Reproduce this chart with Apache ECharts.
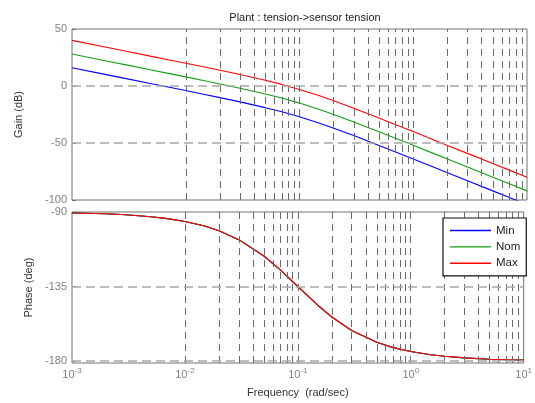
<!DOCTYPE html>
<html><head><meta charset="utf-8">
<script src="https://cdn.jsdelivr.net/npm/echarts@6/dist/echarts.min.js"></script>
<style>html,body{margin:0;padding:0;background:#fff}#c{width:535px;height:403px}</style>
</head><body><div id="c"></div>
<script>
// ---- data ----
const freq = [0.001, 0.002, 0.003, 0.005, 0.007, 0.01, 0.015, 0.02, 0.03, 0.05, 0.07, 0.1, 0.15, 0.2, 0.3, 0.5, 0.7, 1, 1.5, 2, 3, 5, 7, 10];
const gainMin = [16.0, 10.0, 6.5, 2.0, -0.9, -4.0, -7.6, -10.2, -13.9, -19.0, -22.6, -27.0, -32.6, -37.0, -43.5, -52.1, -57.9, -64.0, -71.1, -76.1, -83.1, -92.0, -97.8, -104.0];
const gainNom = [28.0, 22.0, 18.5, 14.0, 11.1, 8.0, 4.4, 1.8, -1.9, -7.0, -10.6, -15.0, -20.6, -25.0, -31.5, -40.1, -45.9, -52.0, -59.1, -64.1, -71.1, -80.0, -85.8, -92.0];
const gainMax = [40.0, 34.0, 30.5, 26.0, 23.1, 20.0, 16.4, 13.8, 10.1, 5.0, 1.4, -3.0, -8.6, -13.0, -19.5, -28.1, -33.9, -40.0, -47.1, -52.1, -59.1, -68.0, -73.8, -80.0];
const phaseMin = [-90.6, -91.1, -91.7, -92.9, -94.0, -95.7, -98.5, -101.3, -106.7, -116.6, -125.0, -135.0, -146.3, -153.4, -161.6, -168.7, -171.9, -174.3, -176.2, -177.1, -178.1, -178.9, -179.2, -179.4];
const phaseNom = [-90.6, -91.1, -91.7, -92.9, -94.0, -95.7, -98.5, -101.3, -106.7, -116.6, -125.0, -135.0, -146.3, -153.4, -161.6, -168.7, -171.9, -174.3, -176.2, -177.1, -178.1, -178.9, -179.2, -179.4];
const phaseMax = [-90.6, -91.1, -91.7, -92.9, -94.0, -95.7, -98.5, -101.3, -106.7, -116.6, -125.0, -135.0, -146.3, -153.4, -161.6, -168.7, -171.9, -174.3, -176.2, -177.1, -178.1, -178.9, -179.2, -179.4];
const seriesNames = ['Min', 'Nom', 'Max'];
const gainTicks = [-100, -50, 0, 50];
const phaseTicks = [-180, -135, -90];
const decades = [0.001, 0.01, 0.1, 1, 10];
const titleText = 'Plant : tension->sensor tension';

// ---- build ----
const colors = ['#0000ff', '#10a010', '#ff0000'];
const pair = (ys) => freq.map((f, i) => [f, ys[i]]);
const vLines = [];
decades.slice(0, -1).forEach(d => { for (let k = 1; k <= 9; k++) { const v = d * k; if (v > 0.0011) vLines.push(v); } });
const FONT = 'Liberation Sans, Arial, sans-serif';
const vStyle = {color: '#6a6a6a', width: 1, type: [7, 5]};
const hStyle = {color: '#a8a8a8', width: 1.5, type: [9, 5]};
function gridSeries(ax, hVals) {
  return {
    type: 'line', data: [], xAxisIndex: ax, yAxisIndex: ax, z: 1, silent: true,
    markLine: {
      symbol: 'none', silent: true, animation: false, label: {show: false},
      emphasis: {disabled: true},
      data: vLines.map(v => ({xAxis: v, lineStyle: vStyle})).concat(hVals.map(v => ({yAxis: v, lineStyle: hStyle})))
    }
  };
}
const xCommon = {
  type: 'log', logBase: 10, min: 0.001, max: 10,
  axisLine: {show: false}, axisTick: {show: false}, splitLine: {show: false}
};
const option = {
  animation: false,
  title: {text: titleText, left: 300, top: 7, textAlign: 'center',
    textStyle: {fontFamily: FONT, fontSize: 11, fontWeight: 'normal', color: '#222'}},
  legend: {
    data: seriesNames, orient: 'vertical', left: 443, top: 218, zlevel: 2, z: 20,
    itemWidth: 41, itemHeight: 14, itemGap: 2.4, padding: [5.5, 6, 5.5, 7],
    backgroundColor: '#fff', borderColor: '#111', borderWidth: 1.2, borderRadius: 0,
    icon: 'path://M0,0 L40,0 L40,1.4 L0,1.4 Z',
    textStyle: {fontFamily: FONT, fontSize: 11.5, color: '#222', lineHeight: 14}
  },
  grid: [
    {left: 72, top: 29, width: 455, height: 171, show: true, borderColor: '#707070', borderWidth: 1, backgroundColor: 'transparent'},
    {left: 72, top: 212, width: 455, height: 151, show: true, borderColor: '#707070', borderWidth: 1, backgroundColor: 'transparent'}
  ],
  xAxis: [
    Object.assign({gridIndex: 0, axisLabel: {show: false}}, xCommon),
    Object.assign({gridIndex: 1,
      name: 'Frequency  (rad/sec)', nameLocation: 'middle', nameGap: 24,
      nameTextStyle: {fontFamily: FONT, fontSize: 11, color: '#333'},
      axisLabel: {
        margin: 4,
        formatter: v => '{b|10}{s|' + Math.round(Math.log10(v)) + '}',
        rich: {
          b: {fontFamily: FONT, fontSize: 11, color: '#808080'},
          s: {fontFamily: FONT, fontSize: 8, color: '#808080', padding: [0, 0, 8, 0]}
        }
      }}, xCommon)
  ],
  yAxis: [
    {gridIndex: 0, min: -100, max: 50, interval: 50,
      name: 'Gain (dB)', nameLocation: 'middle', nameGap: 48,
      nameTextStyle: {fontFamily: FONT, fontSize: 11, color: '#333'},
      axisLine: {show: false}, splitLine: {show: false},
      axisTick: {show: true, inside: true, length: 4, lineStyle: {color: '#707070'}},
      axisLabel: {margin: 5, fontFamily: FONT, fontSize: 11, color: '#808080'}},
    {gridIndex: 1, min: -181.2, max: -90,
      name: 'Phase (deg)', nameLocation: 'middle', nameGap: 34,
      nameTextStyle: {fontFamily: FONT, fontSize: 11, color: '#333'},
      axisLine: {show: false}, splitLine: {show: false},
      axisTick: {show: true, inside: true, length: 4, customValues: phaseTicks, lineStyle: {color: '#707070'}},
      axisLabel: {margin: 5, fontFamily: FONT, fontSize: 11, color: '#808080', customValues: phaseTicks}}
  ],
  series: [
    gridSeries(0, [0, -50]),
    gridSeries(1, [-135, -180]),
    ...[gainMin, gainNom, gainMax].map((g, i) => ({
      name: seriesNames[i], type: 'line', data: pair(g), xAxisIndex: 0, yAxisIndex: 0,
      symbol: 'none', z: 3, clip: true, color: colors[i], lineStyle: {width: 1.1, color: colors[i]}
    })),
    ...[phaseMin, phaseNom, phaseMax].map((p, i) => ({
      name: seriesNames[i], type: 'line', data: pair(p), xAxisIndex: 1, yAxisIndex: 1,
      symbol: 'none', z: 3, clip: true, color: colors[i], lineStyle: {width: 1.1, color: colors[i]}
    }))
  ]
};
echarts.init(document.getElementById('c'), null, {renderer: 'canvas'}).setOption(option);
</script></body></html>
